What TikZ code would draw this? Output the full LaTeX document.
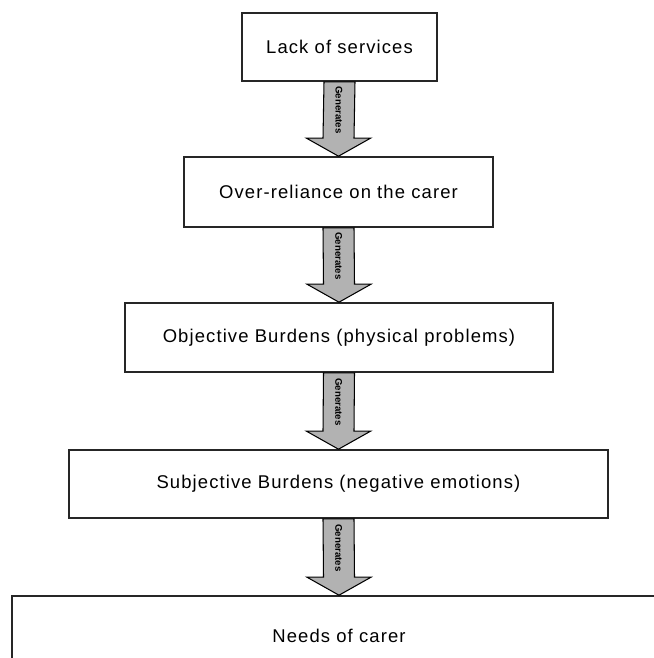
\documentclass[tikz,border=0pt]{standalone}
\usepackage{fontspec}
\setmainfont{Liberation Sans}
\newfontfamily\boxfont{Liberation Sans}[LetterSpace=6]
\usetikzlibrary{calc}
\tikzset{
  stage/.style={draw=black!85, line width=0.9pt, fill=white, inner sep=0pt,
    font=\boxfont\fontsize{10.5}{12}\selectfont},
  gentext/.style={font=\fontsize{5.5}{6}\selectfont\bfseries, rotate=-90, inner sep=0pt},
  genarrow/.style={draw=black, line width=0.6pt, fill=black!30,
    to path={
      ($(\tikztostart)+(-0.31,0)$) -- ($(\tikztotarget)+(-0.31,0.36)$)
      -- ($(\tikztotarget)+(-0.64,0.36)$) -- (\tikztotarget)
      -- ($(\tikztotarget)+(0.64,0.36)$) -- ($(\tikztotarget)+(0.31,0.36)$)
      -- ($(\tikztostart)+(0.31,0)$) -- cycle
      node[gentext] at ($(\tikztostart)!0.5!(\tikztotarget)+(0,0.18)$) {Generates}
    }},
  }

\begin{document}
\begin{tikzpicture}
  \useasboundingbox (0,0) rectangle (13.08,13.16);
  \clip (0,0) rectangle (13.08,13.16);

  % stages
  \node[stage, minimum width=3.9cm,  minimum height=1.36cm] (lack) at (6.79,12.22) {Lack of services};
  \node[stage, minimum width=6.18cm, minimum height=1.40cm] (over) at (6.77,9.32)  {Over-reliance on the carer};
  \node[stage, minimum width=8.56cm, minimum height=1.38cm] (obj)  at (6.78,6.41)  {Objective Burdens (physical problems)};
  \node[stage, minimum width=10.78cm,minimum height=1.36cm] (subj) at (6.77,3.48)  {Subjective Burdens (negative emotions)};
  \node[stage, minimum width=13.08cm,minimum height=1.6cm]  (needs) at (6.78,0.44) {Needs of carer};

  % block arrows
  \draw[genarrow] (lack.south) to (over.north);
  \draw[genarrow] (over.south) to (obj.north);
  \draw[genarrow] (obj.south)  to (subj.north);
  \draw[genarrow] (subj.south) to (needs.north);
\end{tikzpicture}
\end{document}
